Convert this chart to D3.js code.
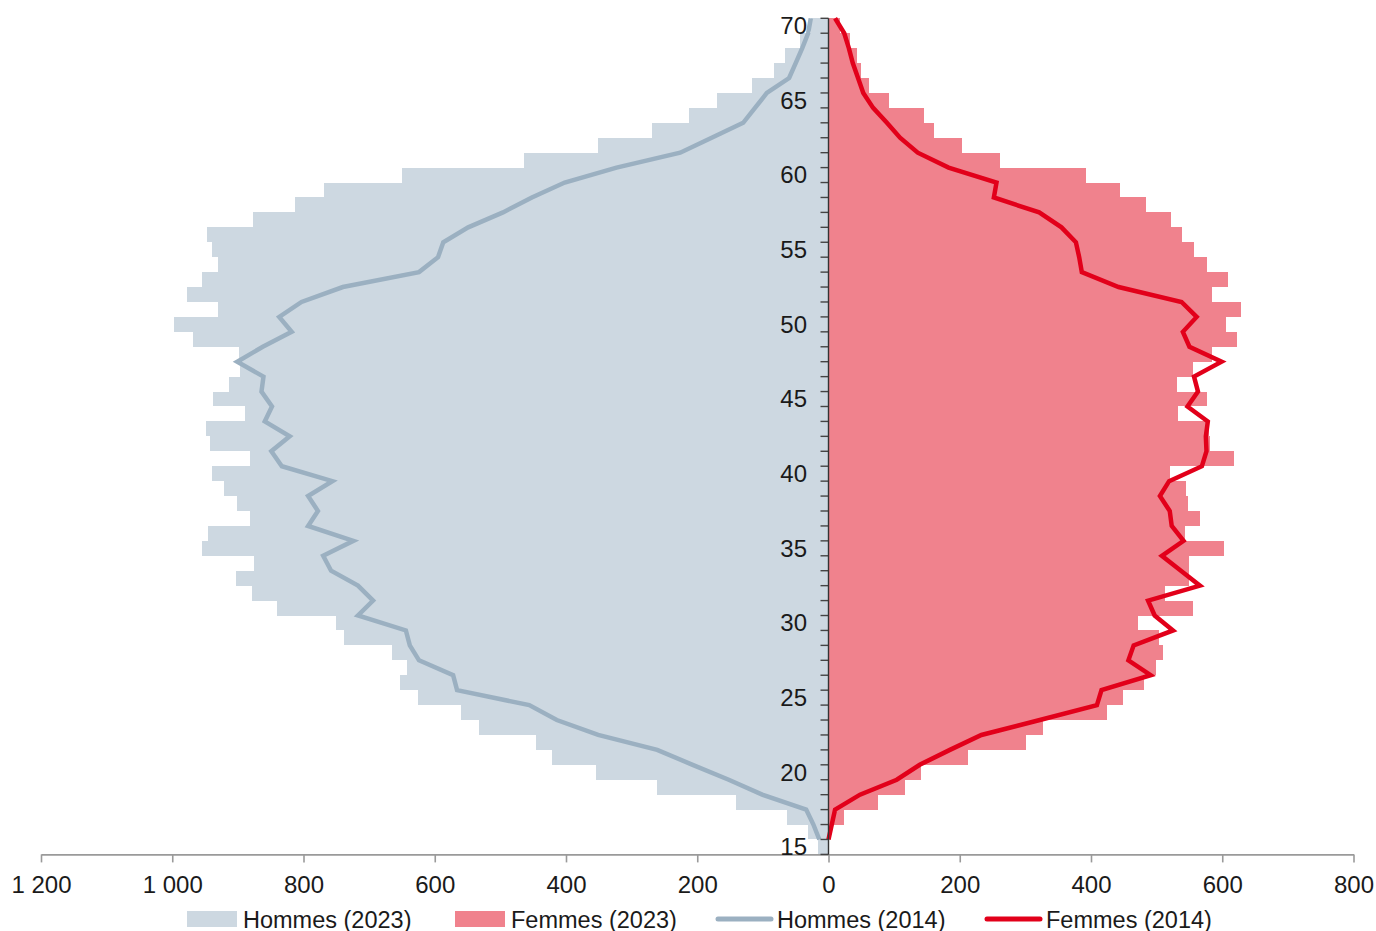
<!DOCTYPE html>
<html>
<head>
<meta charset="utf-8">
<script src="https://cdn.jsdelivr.net/npm/d3@7"></script>
<style>
  body { margin: 0; background: #fff; }
  svg text { font-family: "Liberation Sans", Arial, Helvetica, sans-serif; fill: #1a1a1a; }
</style>
</head>
<body>
<svg id="chart" width="1376" height="931"></svg>
<script>
// ages 15 -> 70
var ages = d3.range(15, 71);

var hommes2023 = [16, 31, 63, 141, 261, 355, 421, 445, 533, 560,
  626, 653, 643, 665, 738, 751, 841, 879, 903, 876,
  954, 946, 882, 901, 921, 939, 882, 942, 949, 889,
  938, 914, 897, 898, 968, 998, 931, 977, 955, 930,
  939, 947, 877, 813, 769, 650, 464, 351, 269, 212,
  170, 117, 83, 66, 44, 27];

var femmes2023 = [0, 2, 24, 76, 117, 141, 212, 301, 327, 425,
  449, 480, 499, 510, 504, 472, 555, 513, 549, 549,
  602, 543, 566, 548, 544, 520, 618, 582, 580, 533,
  577, 531, 556, 584, 623, 605, 628, 585, 608, 577,
  557, 539, 522, 484, 444, 392, 262, 204, 161, 145,
  92, 61, 50, 43, 33, 18];

var hommes2014 = [14, 23, 34, 101, 152, 207, 261, 351, 414, 456,
  566, 572, 624, 638, 644, 717, 694, 717, 758, 770,
  724, 793, 778, 793, 756, 833, 849, 821, 859, 848,
  864, 861, 901, 862, 818, 837, 803, 740, 624, 595,
  587, 549, 496, 452, 402, 323, 226, 178, 130, 112,
  94, 60, 50, 40, 31, 27];

var femmes2014 = [0, 5, 10, 48, 104, 139, 185, 233, 322, 409,
  416, 491, 457, 465, 525, 497, 487, 566, 537, 508,
  541, 523, 520, 505, 519, 569, 576, 575, 578, 547,
  563, 557, 599, 550, 540, 561, 538, 442, 386, 382,
  377, 355, 321, 252, 256, 183, 136, 109, 89, 68,
  53, 45, 37, 31, 24, 10];

var xTicks = [-1200, -1000, -800, -600, -400, -200, 0, 200, 400, 600, 800];
var yLabels = [15, 20, 25, 30, 35, 40, 45, 50, 55, 60, 65, 70];

var series = [
  {name: "Hommes (2023)", type: "bar", color: "#cdd8e1"},
  {name: "Femmes (2023)", type: "bar", color: "#f0828d"},
  {name: "Hommes (2014)", type: "line", color: "#9bb0c1"},
  {name: "Femmes (2014)", type: "line", color: "#e2001a"}
];

var svg = d3.select("#chart");

var x = d3.scaleLinear().domain([-1200, 800]).range([41, 1353.5]);
var y = d3.scaleBand().domain(ages.slice().reverse()).range([18.3, 854.4]).padding(0);
var bw = y.bandwidth();

var rows = ages.map(function(a, i) {
  return {age: a, h23: hommes2023[i], f23: femmes2023[i], h14: hommes2014[i], f14: femmes2014[i]};
});

// bars
svg.append("g").selectAll("rect").data(rows).join("rect")
  .attr("x", function(d) { return x(-d.h23); })
  .attr("y", function(d) { return y(d.age); })
  .attr("width", function(d) { return x(0) - x(-d.h23); })
  .attr("height", bw)
  .attr("fill", series[0].color)
  .attr("shape-rendering", "crispEdges");

svg.append("g").selectAll("rect").data(rows).join("rect")
  .attr("x", x(0))
  .attr("y", function(d) { return y(d.age); })
  .attr("width", function(d) { return x(d.f23) - x(0); })
  .attr("height", bw)
  .attr("fill", series[1].color)
  .attr("shape-rendering", "crispEdges");

// x axis
var xAxis = d3.axisBottom(x).tickValues(xTicks).tickSize(8).tickSizeOuter(0)
  .tickFormat(function(v) { return d3.format(",")(Math.abs(v)).replace(/,/g, " "); });
var gx = svg.append("g").attr("transform", "translate(0," + 854.4 + ")").call(xAxis);
gx.select(".domain").attr("stroke", "#9a9a9a").attr("stroke-width", 1.6);
gx.selectAll(".tick line").attr("stroke", "#9a9a9a").attr("stroke-width", 1.6);
gx.selectAll(".tick text").attr("font-size", 24).attr("dy", null).attr("y", 39)
  .attr("font-family", "Liberation Sans, Arial, sans-serif").attr("fill", "#1a1a1a");

// lines (points on band boundaries)
var line = function(key, sign) {
  return d3.line()
    .x(function(d) { return x(sign * d[key]); })
    .y(function(d) { return y(d.age); });
};

svg.append("path").datum(rows)
  .attr("d", line("h14", -1))
  .attr("fill", "none").attr("stroke", series[2].color).attr("stroke-width", 4.5);

svg.append("path").datum(rows)
  .attr("d", line("f14", 1))
  .attr("fill", "none").attr("stroke", series[3].color).attr("stroke-width", 4.5);

// y axis: ticks at every band boundary, labels every 5 years
var gy = svg.append("g");
var bounds = ages.map(function(a) { return y(a); }).concat([y(15) + bw]);
gy.selectAll("line.tk").data(bounds).join("line")
  .attr("class", "tk")
  .attr("x1", x(0) - 8).attr("x2", x(0))
  .attr("y1", function(d) { return d; }).attr("y2", function(d) { return d; })
  .attr("stroke", "#444").attr("stroke-width", 1.4);
gy.append("line")
  .attr("x1", x(0)).attr("x2", x(0))
  .attr("y1", y(70)).attr("y2", 854.4)
  .attr("stroke", "#333").attr("stroke-width", 1.4);
gy.selectAll("text").data(yLabels).join("text")
  .attr("x", 807)
  .attr("y", function(d) { return y(d) + bw / 2; })
  .attr("dy", "0.35em")
  .attr("text-anchor", "end")
  .attr("font-size", 24)
  .text(function(d) { return d; });

// legend
var legX = [187, 455, 718, 987];
var leg = svg.append("g");
series.forEach(function(s, i) {
  if (s.type == "bar") {
    leg.append("rect").attr("x", legX[i]).attr("y", 911).attr("width", 50).attr("height", 16).attr("fill", s.color);
  } else {
    leg.append("line").attr("x1", legX[i]).attr("x2", legX[i] + 53).attr("y1", 919).attr("y2", 919)
      .attr("stroke", s.color).attr("stroke-width", 5).attr("stroke-linecap", "round");
  }
  leg.append("text").attr("x", legX[i] + (s.type == "bar" ? 56 : 59)).attr("y", 927.5)
    .attr("font-size", 23.5).text(s.name);
});
</script>
</body>
</html>
